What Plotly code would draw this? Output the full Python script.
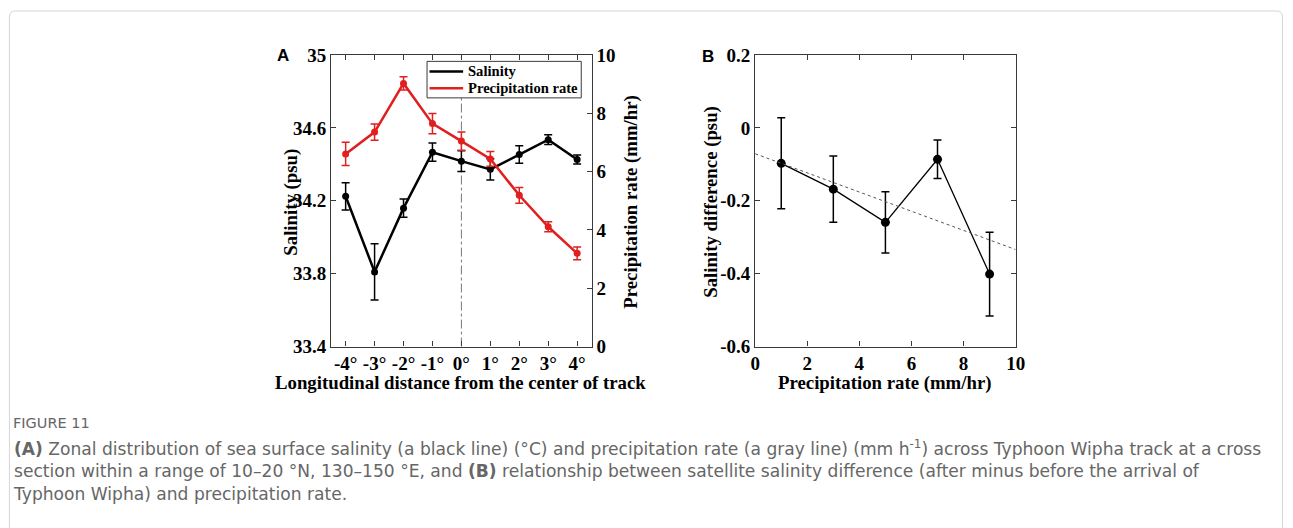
import numpy as np
import plotly.graph_objects as go

# ---------------- data ----------------
lon_offsets = [-4, -3, -2, -1, 0, 1, 2, 3, 4]
lon_labels = ["-4°", "-3°", "-2°", "-1°", "0°", "1°", "2°", "3°", "4°"]
salinity = [34.225, 33.81, 34.16, 34.467, 34.418, 34.373, 34.454, 34.536, 34.427]
salinity_err = [0.075, 0.155, 0.05, 0.05, 0.057, 0.058, 0.048, 0.027, 0.025]
precip = [6.61, 7.36, 9.03, 7.65, 7.05, 6.44, 5.19, 4.11, 3.20]
precip_err = [0.40, 0.28, 0.23, 0.35, 0.31, 0.25, 0.27, 0.17, 0.22]

rate_bins = [1, 3, 5, 7, 9]
sal_diff = [-0.097, -0.168, -0.259, -0.086, -0.401]
sal_diff_err = [0.125, 0.091, 0.084, 0.053, 0.115]

series_names = ["Salinity", "Precipitation rate"]

W, H = 1293, 528
RED = "#e01f1f"
AX = "#3a3a3a"
SERIF = "Liberation Serif"


def px(x):
    return x / W


def py(y):
    return 1 - y / H


fig = go.Figure()

# Panel A
fig.add_trace(go.Scatter(
    x=lon_offsets, y=salinity, mode="lines+markers", name=series_names[0],
    line=dict(color="black", width=2.5), marker=dict(color="black", size=7),
    error_y=dict(type="data", array=salinity_err, color="black", thickness=1.5, width=4),
    xaxis="x", yaxis="y", showlegend=False))
fig.add_trace(go.Scatter(
    x=lon_offsets, y=precip, mode="lines+markers", name=series_names[1],
    line=dict(color=RED, width=2.5), marker=dict(color=RED, size=7),
    error_y=dict(type="data", array=precip_err, color=RED, thickness=1.5, width=4),
    xaxis="x", yaxis="y2", showlegend=False))

# Panel B
fig.add_trace(go.Scatter(
    x=rate_bins, y=sal_diff, mode="lines+markers",
    line=dict(color="black", width=1.3), marker=dict(color="black", size=9),
    error_y=dict(type="data", array=sal_diff_err, color="black", thickness=1.5, width=4),
    xaxis="x2", yaxis="y3", showlegend=False))
slope, intercept = np.polyfit(rate_bins, sal_diff, 1)
trend_x = [0, 10]
fig.add_trace(go.Scatter(
    x=trend_x, y=[intercept + slope * v for v in trend_x], mode="lines",
    line=dict(color="#555555", width=1, dash="dot"),
    xaxis="x2", yaxis="y3", showlegend=False))

tickfont = dict(family=SERIF, size=19, color="black", weight="bold")
axis_common = dict(showline=True, linecolor=AX, linewidth=1.2, ticks="inside",
                   ticklen=5, tickcolor=AX, showgrid=False, zeroline=False,
                   tickfont=tickfont)

domA = [px(330), px(593.5)]
domB = [px(759), px(1022.5)]
domY = [py(350.5), py(47)]

fig.update_layout(
    width=W, height=H, margin=dict(l=0, r=0, t=0, b=0),
    paper_bgcolor="white", plot_bgcolor="white", showlegend=False,
    xaxis=dict(domain=domA, range=[-4.5, 4.5], tickvals=lon_offsets, ticktext=lon_labels,
               mirror="ticks", anchor="y", **axis_common),
    yaxis=dict(domain=domY, range=[33.4, 35.0], tickvals=[33.4, 33.8, 34.2, 34.6, 35.0],
               ticktext=["33.4", "33.8", "34.2", "34.6", "35"], anchor="x", **axis_common),
    yaxis2=dict(domain=domY, range=[0, 10], tickvals=[0, 2, 4, 6, 8, 10], overlaying="y",
                side="right", anchor="x", **axis_common),
    xaxis2=dict(domain=domB, range=[0, 10], tickvals=[0, 2, 4, 6, 8, 10], mirror="ticks",
                anchor="y3", **axis_common),
    yaxis3=dict(domain=domY, range=[-0.6, 0.2], tickvals=[-0.6, -0.4, -0.2, 0, 0.2],
                ticktext=["-0.6", "-0.4", "-0.2", "0", "0.2"], mirror="ticks",
                anchor="x2", **axis_common),
)

# vertical dash-dot line at 0 in panel A
fig.add_shape(type="line", xref="x", yref="paper", x0=0, x1=0, y0=domY[0], y1=domY[1],
              line=dict(color="#777777", width=1, dash="dashdot"), layer="below")

# legend box (decoration)
fig.add_shape(type="rect", xref="paper", yref="paper", x0=px(427), x1=px(583),
              y0=py(91.5), y1=py(53.5), line=dict(color=AX, width=1), fillcolor="white")
for name, color, yy in [(series_names[0], "black", 64), (series_names[1], RED, 81.5)]:
    fig.add_shape(type="line", xref="paper", yref="paper", x0=px(429.5), x1=px(463.5),
                  y0=py(yy), y1=py(yy), line=dict(color=color, width=2.5))
    fig.add_annotation(text=name, x=px(466), y=py(yy), xref="paper", yref="paper",
                       showarrow=False, xanchor="left", yanchor="middle",
                       font=dict(family=SERIF, size=14.6, color="black", weight="bold"))

# card border with rounded corners
x0b, x1b, y0b, y1b, r = 4.5, 1292.5, 1.0, 540.0, 6.0
path = (f"M {px(x0b + r)} {py(y0b)} L {px(x1b - r)} {py(y0b)} "
        f"Q {px(x1b)} {py(y0b)} {px(x1b)} {py(y0b + r)} L {px(x1b)} {py(y1b)} "
        f"L {px(x0b)} {py(y1b)} L {px(x0b)} {py(y0b + r)} "
        f"Q {px(x0b)} {py(y0b)} {px(x0b + r)} {py(y0b)}")
fig.add_shape(type="path", xref="paper", yref="paper", path=path,
              line=dict(color="#d6d6d6", width=1), layer="below")

ann = []
titlefont = dict(family=SERIF, size=18.8, color="black", weight="bold")
labfont = dict(family="Liberation Sans", size=17, color="black", weight="bold")
ann.append(dict(text="A", x=px(281), y=py(47.5), font=labfont))
ann.append(dict(text="B", x=px(711.5), y=py(48.5), font=labfont))
ann.append(dict(text="Salinity (psu)", x=px(289), y=py(200), textangle=-90, font=titlefont))
ann.append(dict(text="Precipitation rate (mm/hr)", x=px(633), y=py(200), textangle=-90,
                font=titlefont))
ann.append(dict(text="Longitudinal distance from the center of track", x=px(461), y=py(388),
                font=titlefont))
ann.append(dict(text="Salinity difference (psu)", x=px(714), y=py(200), textangle=-90,
                font=titlefont))
ann.append(dict(text="Precipitation rate (mm/hr)", x=px(890), y=py(388), font=titlefont))
for a in ann:
    a.update(xref="paper", yref="paper", showarrow=False, xanchor="center", yanchor="middle")
    fig.add_annotation(**a)

fig.add_annotation(text="FIGURE 11", x=px(6), y=py(430), xref="paper", yref="paper",
                   showarrow=False, xanchor="left", yanchor="middle",
                   font=dict(family="DejaVu Sans", size=14.5, color="#666666"))
caption = ("<b>(A)</b> Zonal distribution of sea surface salinity (a black line) (°C) and "
           "precipitation rate (a gray line) (mm h<sup>-1</sup>) across Typhoon Wipha track at a cross"
           "<br>section within a range of 10–20 °N, 130–150 °E, and <b>(B)</b> relationship between "
           "satellite salinity difference (after minus before the arrival of"
           "<br>Typhoon Wipha) and precipitation rate.")
fig.add_annotation(text=caption, x=px(6), y=py(479.5), xref="paper", yref="paper",
                   showarrow=False, xanchor="left", yanchor="middle", align="left",
                   font=dict(family="DejaVu Sans", size=17.1, color="#666666"))

fig.write_html("out.html")
